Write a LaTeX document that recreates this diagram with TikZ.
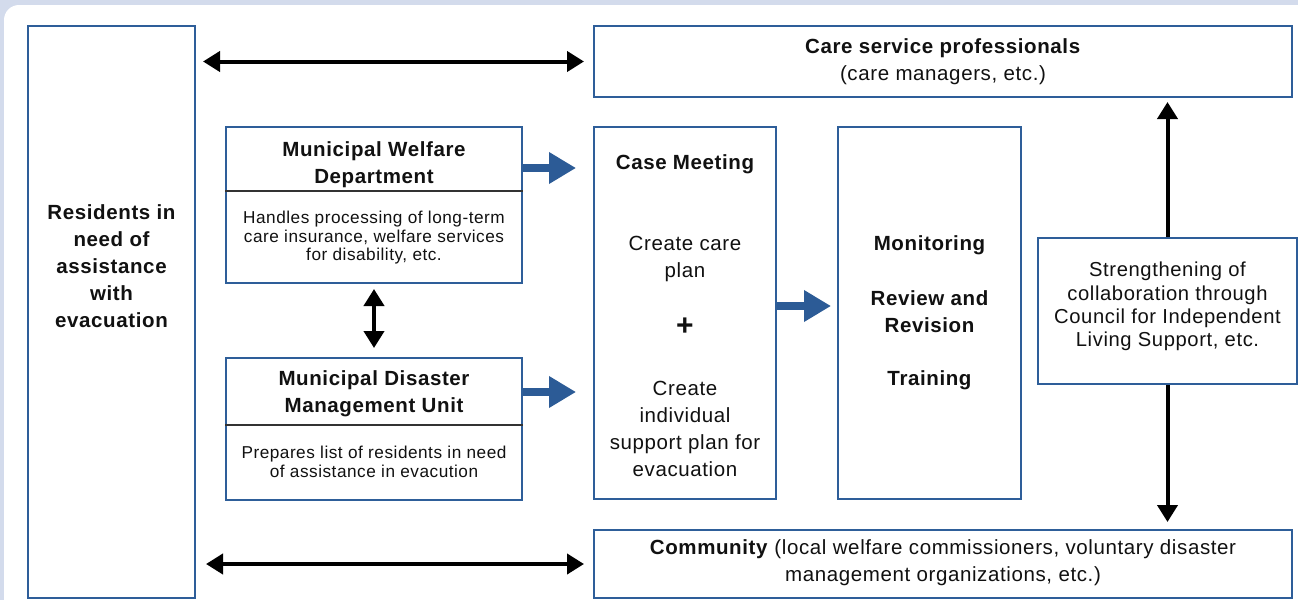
\documentclass[tikz,border=0pt]{standalone}
\usepackage{fontspec}
\setmainfont{Liberation Sans}[LetterSpace=3]
\usetikzlibrary{arrows.meta}
\definecolor{bgblue}{HTML}{D3DBEC}
\definecolor{boxblue}{HTML}{2E5E99}
\definecolor{arrowblue}{HTML}{2C5B96}
\definecolor{txt}{HTML}{111111}
\tikzset{
  box/.style={draw=boxblue, line width=2pt, fill=white, inner sep=0pt},
  big/.style={font=\fontsize{20.5}{27}\selectfont, text=txt, align=center, inner sep=0pt},
  bigb/.style={font=\fontsize{20.5}{27}\selectfont\bfseries, text=txt, align=center, inner sep=0pt},
  plus/.style={font=\fontsize{30}{30}\selectfont\bfseries, text=txt, inner sep=0pt},
  small/.style={font=\fontsize{17.2}{18.5}\selectfont, text=txt, align=center, inner sep=0pt},
  strtext/.style={font=\fontsize{20.2}{23.3}\selectfont, text=txt, align=center, inner sep=0pt},
  divider/.style={draw=black!80, line width=1.2pt},
  blk/.style={draw=black, line width=4pt},
  blktip/.tip={Triangle[length=17pt,width=20pt]},
  bluearrow/.style={draw=arrowblue, line width=7.5pt, -{Triangle[length=27pt,width=30pt]}}
}
\begin{document}
\begin{tikzpicture}[x=1pt,y=-1pt]
\clip (0,0) rectangle (1298,600);
\fill[bgblue] (0,0) rectangle (1298,600);
\fill[white, rounded corners=15pt] (4,5) rectangle (1330,640);

% boxes
\node[box, minimum width=167pt, minimum height=572pt] (res) at (111.5,312) {};
\node[bigb] (restext) at (111.5,266) {Residents in\\need of\\assistance\\with\\evacuation};

\node[box, minimum width=698pt, minimum height=71pt] (care) at (943,61.5) {};
\node[big] (caretext) at (943,61.5) {\textbf{Care service professionals}\\(care managers, etc.)};

\node[box, minimum width=698pt, minimum height=68pt] (comm) at (943,564) {};
\node[big] (commtext) at (943,562.5) {\textbf{Community} (local welfare commissioners, voluntary disaster\\management organizations, etc.)};

\node[box, minimum width=296pt, minimum height=156pt] (wel) at (374,205) {};
\draw[divider] ([yshift=-65pt]wel.north west) -- ([yshift=-65pt]wel.north east);
\node[bigb] (weltitle) at (374,165) {Municipal Welfare\\Department};
\node[small] (welbody) at (374,238) {Handles processing of long-term\\care insurance, welfare services\\for disability, etc.};

\node[box, minimum width=296pt, minimum height=142pt] (dis) at (374,429) {};
\draw[divider] ([yshift=-68pt]dis.north west) -- ([yshift=-68pt]dis.north east);
\node[bigb] (distitle) at (374,394) {Municipal Disaster\\Management Unit};
\node[small] (disbody) at (374,462) {Prepares list of residents in need\\of assistance in evacution};

\node[box, minimum width=182pt, minimum height=372pt] (cm) at (685,313) {};
\node[bigb] (cm1) at (685,164) {Case Meeting};
\node[big] (cm2) at (685,259) {Create care\\plan};
\node[plus] (cm3) at (685,327) {+};
\node[big] (cm4) at (685,428.5) {Create\\individual\\support plan for\\evacuation};

\node[box, minimum width=183pt, minimum height=372pt] (mon) at (929.5,313) {};
\node[bigb] (mon1) at (929.5,245) {Monitoring};
\node[bigb] (mon2) at (929.5,312) {Review and\\Revision};
\node[bigb] (mon3) at (929.5,380) {Training};

\node[box, minimum width=259pt, minimum height=146pt] (str) at (1167.5,311) {};
\node[strtext] (strtext) at (1167.5,306.5) {Strengthening of\\collaboration through\\Council for Independent\\Living Support, etc.};

% black arrows
\draw[blk, blktip-blktip, shorten <=7pt, shorten >=9pt] (res.east |- care.west) -- (care.west);
\draw[blk, blktip-blktip, shorten <=10pt, shorten >=9pt] (res.east |- comm.west) -- (comm.west);
\draw[blk, blktip-blktip, shorten <=5pt, shorten >=9pt] (wel.south) -- (dis.north);
\draw[blk, -blktip, shorten >=4pt] (str.north) -- (str.north |- care.south);
\draw[blk, -blktip, shorten >=7pt] (str.south) -- (str.south |- comm.north);

% blue arrows
\coordinate (a1) at ([yshift=-42pt]wel.north east);
\coordinate (a2) at ([yshift=-35pt]dis.north east);
\coordinate (a3) at ([yshift=7pt]cm.east);
\draw[bluearrow, shorten >=17pt] (a1) -- (a1 -| cm.west);
\draw[bluearrow, shorten >=17pt] (a2) -- (a2 -| cm.west);
\draw[bluearrow, shorten >=6pt] (a3) -- (a3 -| mon.west);
\end{tikzpicture}
\end{document}
